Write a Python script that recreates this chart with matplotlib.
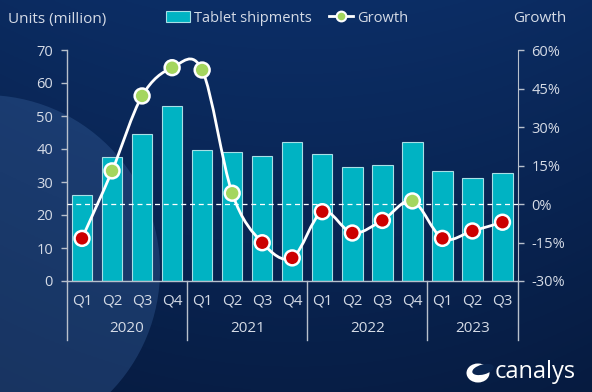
import numpy as np
import matplotlib
matplotlib.use("Agg")
import matplotlib.pyplot as plt
from matplotlib.path import Path
from matplotlib.patches import PathPatch, Patch, Circle, Ellipse
from matplotlib.lines import Line2D

plt.rcParams['font.family'] = ['Open Sans', 'DejaVu Sans']

# ---- data ----
quarters = ['Q1', 'Q2', 'Q3', 'Q4', 'Q1', 'Q2', 'Q3', 'Q4',
            'Q1', 'Q2', 'Q3', 'Q4', 'Q1', 'Q2', 'Q3']
years = ['2020', '2021', '2022', '2023']
quarters_per_year = [4, 4, 4, 3]
shipments = [26.0, 37.5, 44.4, 53.0, 39.8, 39.0, 37.8, 42.0,
             38.5, 34.6, 35.2, 42.2, 33.3, 31.1, 32.8]
growth = [-13.4, 12.9, 42.1, 53.1, 52.2, 4.2, -15.1, -21.0,
          -3.0, -11.3, -6.4, 1.2, -13.4, -10.5, -7.1]

TXT = '#d5dbe6'
AXC = '#b8c0cc'
BAR = '#00b3c3'
BAR_EDGE = '#a8dfe6'
RED = '#cc0000'
GREEN = '#a4d65e'

fig = plt.figure(figsize=(5.92, 3.92), dpi=100)

# background gradient + soft circle
bg = fig.add_axes([0, 0, 1, 1], zorder=-10)
yy, xx = np.mgrid[0:1:200j, 0:1:300j]
top = np.array([12, 46, 102]) / 255
bot = np.array([6, 26, 62]) / 255
t = np.clip(yy * 0.8 + (xx - 0.5) ** 2 * 0.6, 0, 1)[..., None]
img = top * (1 - t) + bot * t
bg.imshow(img, extent=[0, 592, 392, 0], aspect='auto')
bg.add_patch(Circle((-15, 270), 175, color='#3a64a0', alpha=0.35, lw=0))
bg.set_xlim(0, 592)
bg.set_ylim(392, 0)
bg.axis('off')

ax = fig.add_axes([67 / 592, 1 - 281 / 392, 450.5 / 592, 231 / 392])
ax.patch.set_alpha(0)
x = np.arange(len(shipments))
ax.bar(x, shipments, width=0.68, color=BAR, edgecolor=BAR_EDGE, linewidth=0.8, zorder=2)
ax.set_xlim(-0.5, len(shipments) - 0.5)
ax.set_ylim(0, 70)
ax.set_yticks(range(0, 71, 10))
ax.set_xticks([])
for s in ['top', 'right']:
    ax.spines[s].set_visible(False)
for s in ['left', 'bottom']:
    ax.spines[s].set_color(AXC)
    ax.spines[s].set_linewidth(1)
ax.tick_params(axis='y', colors=AXC, labelcolor=TXT, labelsize=10.5, length=4, width=1, pad=6)

# category labels
trans = ax.get_xaxis_transform()
for i, q in enumerate(quarters):
    ax.text(i, -0.085, q, transform=trans, ha='center', va='center', color=TXT, fontsize=11)
start = 0
seps = [-0.5]
for yr, n in zip(years, quarters_per_year):
    ax.text(start + (n - 1) / 2, -0.205, yr, transform=trans, ha='center', va='center',
            color=TXT, fontsize=11)
    start += n
    seps.append(start - 0.5)
for s in seps:
    ax.plot([s, s], [0, -0.255], transform=trans, color=AXC, lw=1, clip_on=False)

# growth axis
ax2 = ax.twinx()
ax2.set_ylim(-30, 60)
ax2.set_yticks(range(-30, 61, 15))
ax2.set_yticklabels([f'{v}%' for v in range(-30, 61, 15)])
for s in ['top', 'left', 'bottom']:
    ax2.spines[s].set_visible(False)
ax2.spines['right'].set_color(AXC)
ax2.tick_params(axis='y', colors=AXC, labelcolor=TXT, labelsize=10.5, length=4, width=1, pad=6)
ax2.axhline(0, color='white', lw=0.9, ls=(0, (4, 3)), zorder=3)

# smoothed growth line (Catmull-Rom as cubic Bezier)
pts = np.column_stack([x, growth]).astype(float)
ext = np.vstack([pts[0], pts, pts[-1]])
verts = [tuple(pts[0])]
codes = [Path.MOVETO]
for i in range(len(pts) - 1):
    p0, p1, p2, p3 = ext[i], ext[i + 1], ext[i + 2], ext[i + 3]
    c1 = p1 + (p2 - p0) / 6
    c2 = p2 - (p3 - p1) / 6
    verts += [tuple(c1), tuple(c2), tuple(p2)]
    codes += [Path.CURVE4] * 3
ax2.add_patch(PathPatch(Path(verts, codes), fill=False, edgecolor='white', lw=2, zorder=4))
cols = [GREEN if g > 0 else RED for g in growth]
ax2.scatter(x, growth, s=115, c=cols, edgecolors='white', linewidths=1.8, zorder=5)

# titles
fig.text(8 / 592, 1 - 19 / 392, 'Units (million)', color=TXT, fontsize=11, va='center')
fig.text(540 / 592, 1 - 19 / 392, 'Growth', color=TXT, fontsize=11, va='center', ha='center')

# legend
handles = [Patch(facecolor=BAR, edgecolor=BAR_EDGE, lw=0.8),
           Line2D([], [], color='white', lw=2, marker='o', markersize=7,
                  markerfacecolor=GREEN, markeredgecolor='white', markeredgewidth=1.5)]
leg = fig.legend(handles, ['Tablet shipments', 'Growth'], loc='center left',
                 bbox_to_anchor=(153 / 592, 1 - 18 / 392), ncol=2, frameon=False,
                 fontsize=10.5, handlelength=1.65, handleheight=0.8,
                 handletextpad=0.25, columnspacing=1.2)
for tx in leg.get_texts():
    tx.set_color(TXT)

# canalys mark
bg.add_patch(Ellipse((478, 373), 23, 19, color='white', lw=0))
bg.add_patch(Ellipse((483, 369.5), 22, 10, angle=-15, color='#0a2550', lw=0))
bg.text(495, 372, 'canalys', color='white', fontsize=17, va='center', ha='left')

fig.savefig('out.png', dpi=100, facecolor='#0a2a5c')
